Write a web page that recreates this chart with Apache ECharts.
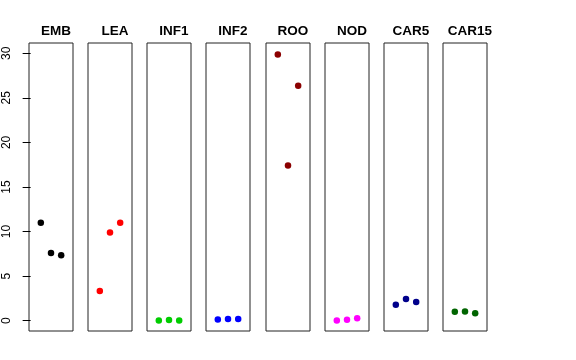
<!DOCTYPE html>
<html><head><meta charset="utf-8">
<script src="https://cdn.jsdelivr.net/npm/echarts@6/dist/echarts.min.js"></script>
<style>html,body{margin:0;padding:0;background:#fff}#c{width:576px;height:360px}</style>
</head><body><div id="c"></div>
<script>
const panels = ['EMB','LEA','INF1','INF2','ROO','NOD','CAR5','CAR15'];
const colors = ['#000000','#FF0000','#00CD00','#0000FF','#8B0000','#FF00FF','#00008B','#006400'];
const xPos = [1, 2, 3];
const EMB = [11.0, 7.6, 7.35];
const LEA = [3.35, 9.9, 11.0];
const INF1 = [0.03, 0.08, 0.03];
const INF2 = [0.15, 0.2, 0.2];
const ROO = [29.85, 17.4, 26.35];
const NOD = [0.02, 0.1, 0.28];
const CAR5 = [1.8, 2.45, 2.1];
const CAR15 = [1.0, 1.05, 0.85];
const yTicks = [0, 5, 10, 15, 20, 25, 30];
const values = [EMB, LEA, INF1, INF2, ROO, NOD, CAR5, CAR15];

const lefts = [29, 88, 147, 206, 266, 325, 384, 443];
const W = 44;
const grids = [], xAxes = [], yAxes = [], series = [], titles = [];
panels.forEach((p, i) => {
  grids.push({left: lefts[i], top: 43, width: W, height: 288, show: true,
    borderColor: '#222', borderWidth: 1, backgroundColor: 'transparent'});
  xAxes.push({type: 'value', gridIndex: i, min: -0.16, max: 4.16, show: false});
  yAxes.push({type: 'value', gridIndex: i, min: -1.15, max: 31.15, interval: 5,
    show: i === 0,
    axisLine: {show: false},
    axisTick: {show: true, length: 8, lineStyle: {color: '#000'},
      customValues: yTicks},
    axisLabel: {show: true, rotate: 90, margin: 16, fontSize: 12,
      fontFamily: 'Liberation Sans, Arial, sans-serif', color: '#000',
      customValues: yTicks},
    splitLine: {show: false}});
  series.push({type: 'scatter', xAxisIndex: i, yAxisIndex: i, symbol: 'circle',
    symbolSize: 6.5, itemStyle: {color: colors[i], opacity: 1},
    data: xPos.map((x, k) => [x, values[i][k]]), silent: true});
  titles.push({text: p, left: lefts[i] + W / 2, top: 19, textAlign: 'center',
    textStyle: {fontSize: 13.5, fontWeight: 'bold', color: '#000',
      fontFamily: 'Liberation Sans, Arial, sans-serif'}});
});
const chart = echarts.init(document.getElementById('c'), null, {renderer: 'canvas'});
chart.setOption({animation: false, backgroundColor: '#fff', title: titles,
  grid: grids, xAxis: xAxes, yAxis: yAxes, series: series});
</script></body></html>
